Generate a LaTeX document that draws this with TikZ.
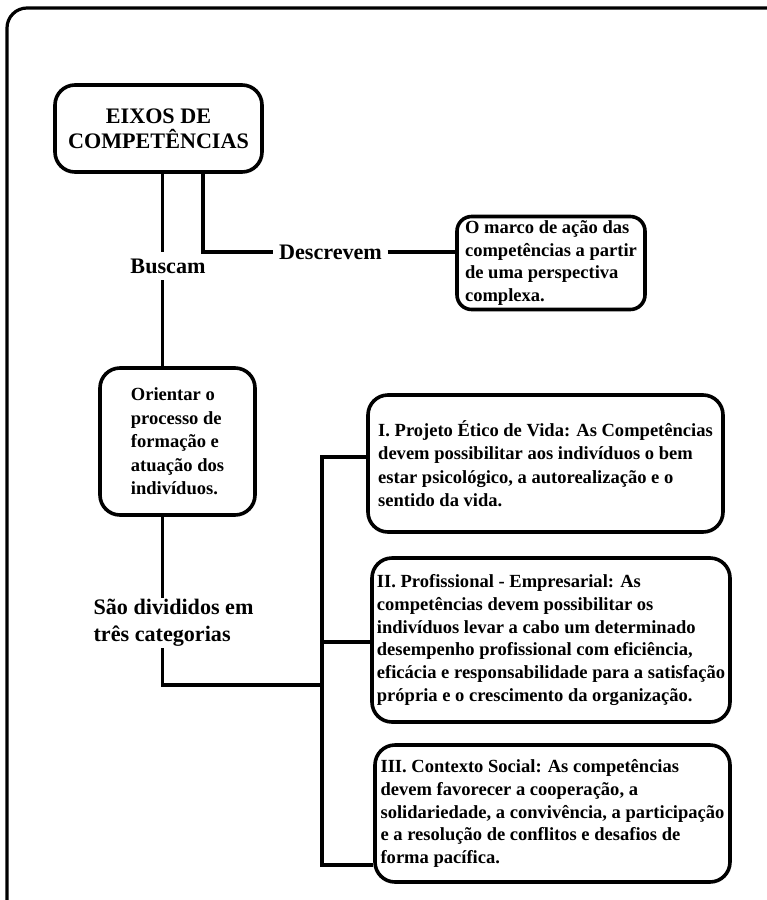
\documentclass[tikz,border=0pt]{standalone}
\usepackage{fontspec}
\setmainfont{Liberation Serif}
\begin{document}
\begin{tikzpicture}[x=0.75pt,y=-0.75pt,
  frame/.style={line width=2.4pt, rounded corners=15pt},
  box/.style={draw, line width=2.7pt, rounded corners=11pt, align=left, inner sep=0pt,
    font=\bfseries\fontsize{13.9}{17}\selectfont},
  tag/.style={font=\bfseries\fontsize{16.6}{20}\selectfont, inner xsep=4pt, inner ysep=5pt, align=left},
  wire/.style={line width=2.7pt}]
\useasboundingbox (0,0) rectangle (767,900);
\clip (0,0) rectangle (767,900);
% outer frame
\draw[frame] (7,8) rectangle (790,925);

% main boxes
\node[box, align=center, rounded corners=15pt, minimum width=155.25pt, minimum height=65.25pt,
  font=\bfseries\fontsize{16.6}{18.75}\selectfont] (eixos) at (158.5,128.5) {EIXOS DE\\COMPET\^ENCIAS};
\node[box, minimum width=141pt, minimum height=69.75pt] (marco) at (551,263)
  {O marco de ação das\\competências a partir\\de uma perspectiva\\complexa.};
\node[box, rounded corners=15pt, minimum width=116.25pt, minimum height=110.25pt,
  font=\bfseries\fontsize{13.9}{17.6}\selectfont] (orient) at (177.5,441.5)
  {Orientar o\\processo de\\formação e\\atuação dos\\indivíduos.};
\node[box, rounded corners=15pt, minimum width=266.25pt, minimum height=102.75pt,
  font=\bfseries\fontsize{13.9}{17.6}\selectfont] (box1) at (545.5,463.5)
  {I. Projeto Ético de Vida: As Competências\\devem possibilitar aos indivíduos o bem\\estar psicológico, a autorealização e o\\sentido da vida.};
\node[box, rounded corners=15pt, minimum width=268.5pt, minimum height=123pt] (box2) at (551,640)
  {II. Profissional - Empresarial: As\\competências devem possibilitar os\\indivíduos levar a cabo um determinado\\desempenho profissional com eficiência,\\eficácia e responsabilidade para a satisfação\\própria e o crescimento da organização.};
\node[box, rounded corners=15pt, minimum width=266.25pt, minimum height=102.75pt] (box3) at (552.5,813.5)
  {III. Contexto Social: As competências\\devem favorecer a cooperação, a\\solidariedade, a convivência, a participação\\e a resolução de conflitos e desafios de\\forma pacífica.};

% connector labels
\node[tag] (buscam) at (168,266) {Buscam};
\node[tag] (descr) at (330.5,252) {Descrevem};
\node[tag, anchor=west, inner ysep=1pt] (sao) at (88,623) {São divididos em\\três categorias};

% guide coordinates for the connectors
\coordinate (c1) at (162.5,0);
\coordinate (c2) at (203,0);
\coordinate (jm) at (322,685);
\coordinate (j1) at (322,457);
\coordinate (j2) at (322,642);
\coordinate (j3) at (322,865);

% connectors
\draw[wire] (eixos.south -| c1) -- (buscam.north -| c1);
\draw[wire] (buscam.south -| c1) -- (orient.north -| c1);
\draw[wire] (eixos.south -| c2) |- (descr.west);
\draw[wire] (descr.east) -- (descr.east -| marco.west);
\draw[wire] (orient.south -| c1) -- (sao.north -| c1);
\draw[wire] (sao.south -| c1) |- (jm);
\draw[wire] (j1 -| box1.west) -- (j1) -- (j3) -- (j3 -| box3.west);
\draw[wire] (j2) -- (j2 -| box2.west);
\end{tikzpicture}
\end{document}
